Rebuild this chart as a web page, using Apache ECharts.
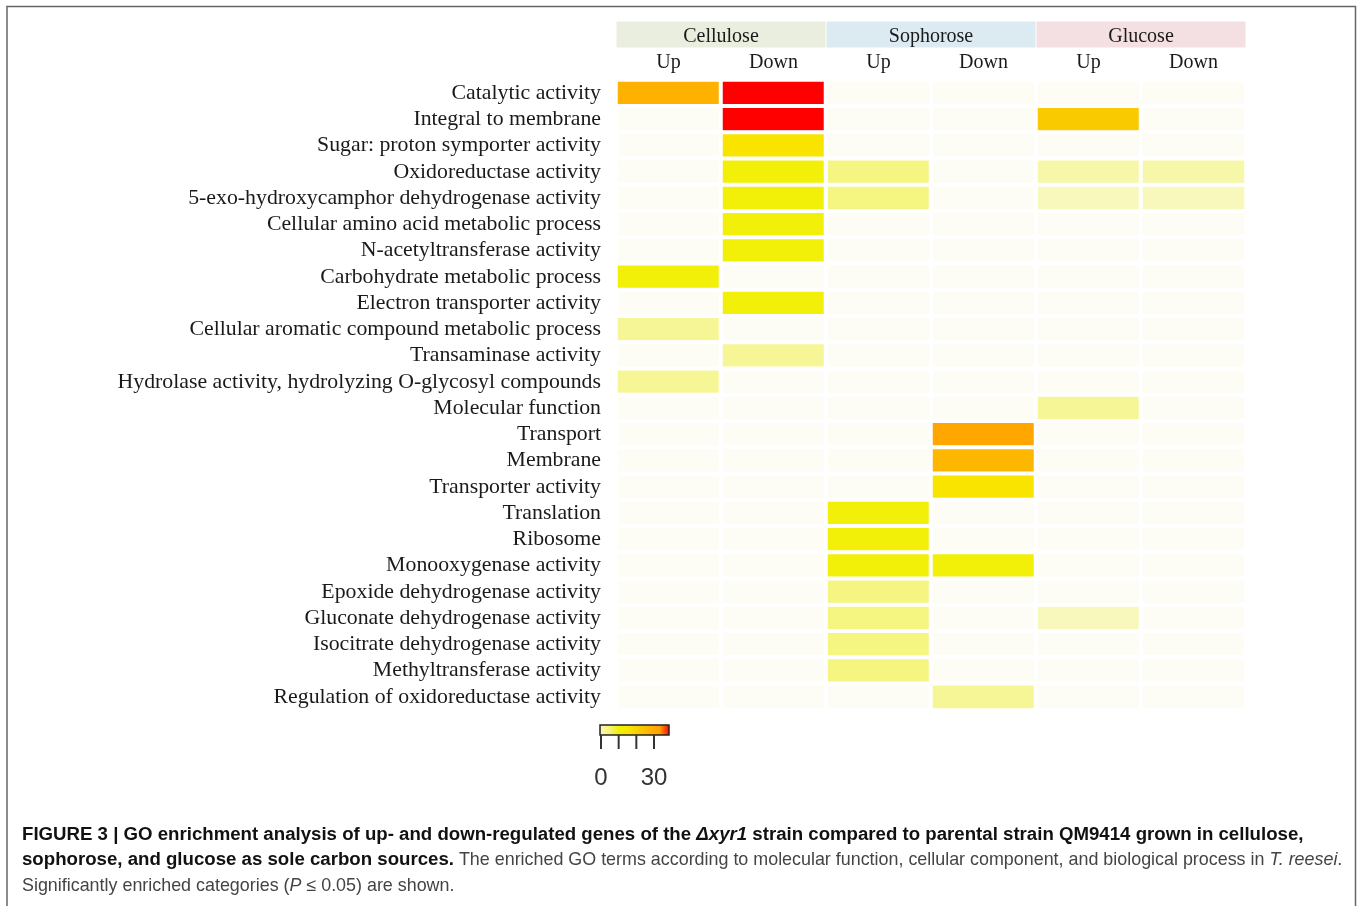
<!DOCTYPE html>
<html>
<head>
<meta charset="utf-8">
<title>GO enrichment heatmap</title>
<script src="https://cdn.jsdelivr.net/npm/echarts@6/dist/echarts.min.js"></script>
<style>
    html, body { margin: 0; padding: 0; background: #fff; }
    #main { width: 1358px; height: 906px; }
</style>
</head>
<body>
<div id="main"></div>
<script>
// GO terms, top to bottom
var terms = [
    'Catalytic activity',
    'Integral to membrane',
    'Sugar: proton symporter activity',
    'Oxidoreductase activity',
    '5-exo-hydroxycamphor dehydrogenase activity',
    'Cellular amino acid metabolic process',
    'N-acetyltransferase activity',
    'Carbohydrate metabolic process',
    'Electron transporter activity',
    'Cellular aromatic compound metabolic process',
    'Transaminase activity',
    'Hydrolase activity, hydrolyzing O-glycosyl compounds',
    'Molecular function',
    'Transport',
    'Membrane',
    'Transporter activity',
    'Translation',
    'Ribosome',
    'Monooxygenase activity',
    'Epoxide dehydrogenase activity',
    'Gluconate dehydrogenase activity',
    'Isocitrate dehydrogenase activity',
    'Methyltransferase activity',
    'Regulation of oxidoreductase activity'
];
var columns = ['Up', 'Down', 'Up', 'Down', 'Up', 'Down'];
var sources = ['Cellulose', 'Sophorose', 'Glucose'];

// enrichment scores per column
var celluloseUp   = [23, 0, 0, 0, 0, 0, 0, 11, 0, 6, 0, 6, 0, 0, 0, 0, 0, 0, 0, 0, 0, 0, 0, 0];
var celluloseDown = [30, 30, 15, 11, 11, 11, 11, 0, 11, 0, 6, 0, 0, 0, 0, 0, 0, 0, 0, 0, 0, 0, 0, 0];
var sophoroseUp   = [0, 0, 0, 7, 7, 0, 0, 0, 0, 0, 0, 0, 0, 0, 0, 0, 11, 11, 11, 7, 7, 7, 7, 0];
var sophoroseDown = [0, 0, 0, 0, 0, 0, 0, 0, 0, 0, 0, 0, 0, 25, 22, 15, 0, 0, 11, 0, 0, 0, 0, 6];
var glucoseUp     = [0, 19, 0, 5, 4, 0, 0, 0, 0, 0, 0, 0, 6, 0, 0, 0, 0, 0, 0, 0, 4, 0, 0, 0];
var glucoseDown   = [0, 0, 0, 5, 4, 0, 0, 0, 0, 0, 0, 0, 0, 0, 0, 0, 0, 0, 0, 0, 0, 0, 0, 0];

var scaleMin = 0;
var scaleMax = 30;
var legendTicks = [0, 10, 20, 30];
var legendLabels = ['0', '30'];

var rampColors = ['#fdfdf6', '#f8f8c2', '#f4f478', '#f2f000', '#f9e400', '#f9cc00', '#ffb400', '#ffa000', '#ff0000'];
var bandColors = { Cellulose: '#e9eedf', Sophorose: '#dcebf1', Glucose: '#f4e0e2' };

var allColumns = [celluloseUp, celluloseDown, sophoroseUp, sophoroseDown, glucoseUp, glucoseDown];
var cells = [];
allColumns.forEach(function (col, x) {
    col.forEach(function (v, y) {
        cells.push([x, y, v]);
    });
});

var serif = '"Liberation Serif", "Times New Roman", serif';
var sans = '"Liberation Sans", Arial, sans-serif';

// legend bar geometry
var lgX = 600, lgY = 725, lgW = 69, lgH = 10;
var tickX0 = 601, tickX1 = 654;
function tickPos(v) {
    return tickX0 + (v - scaleMin) / (scaleMax - scaleMin) * (tickX1 - tickX0);
}

var legendGraphics = [{
    type: 'rect',
    shape: { x: lgX, y: lgY, width: lgW, height: lgH },
    style: {
        fill: new echarts.graphic.LinearGradient(0, 0, 1, 0, rampColors.slice(1).map(function (c, i, a) {
            return { offset: i / (a.length - 1), color: c };
        })),
        stroke: '#222',
        lineWidth: 1.5
    }
}];
legendTicks.forEach(function (t) {
    legendGraphics.push({
        type: 'line',
        shape: { x1: tickPos(t), y1: lgY + lgH, x2: tickPos(t), y2: lgY + lgH + 14 },
        style: { stroke: '#333', lineWidth: 2 }
    });
});
legendLabels.forEach(function (lab) {
    legendGraphics.push({
        type: 'text',
        x: tickPos(Number(lab)),
        y: 778,
        style: { text: lab, font: '24px "Liberation Sans", Arial, sans-serif', fill: '#333', align: 'center', verticalAlign: 'middle' }
    });
});

var captionRich = {
    b: { fontFamily: sans, fontWeight: 'bold', fontSize: 18.65, fill: '#111' },
    bi: { fontFamily: sans, fontWeight: 'bold', fontStyle: 'italic', fontSize: 18.65, fill: '#111' },
    n: { fontFamily: sans, fontSize: 17.9, fill: '#444' },
    i: { fontFamily: sans, fontStyle: 'italic', fontSize: 17.9, fill: '#444' }
};
var captionLines = [
    '{b|FIGURE 3 | GO enrichment analysis of up- and down-regulated genes of the }{bi|Δxyr1}{b| strain compared to parental strain QM9414 grown in cellulose,}',
    '{b|sophorose, and glucose as sole carbon sources.}{n| The enriched GO terms according to molecular function, cellular component, and biological process in }{i|T. reesei}{n|.}',
    '{n|Significantly enriched categories (}{i|P}{n| ≤ 0.05) are shown.}'
];
var captionY = [835, 860, 886];
var captionGraphics = captionLines.map(function (line, k) {
    return {
        type: 'text',
        x: 22,
        y: captionY[k],
        style: { text: line, rich: captionRich, verticalAlign: 'middle', align: 'left' }
    };
});

var frame = {
    type: 'polyline',
    shape: { points: [[7, 906], [7, 6.5], [1355.5, 6.5], [1355.5, 906]] },
    style: { stroke: '#666', lineWidth: 1.5, fill: null }
};

var chart = echarts.init(document.getElementById('main'));
chart.setOption({
    animation: false,
    backgroundColor: '#fff',
    grid: { left: 616, right: 112, top: 80, height: 630 },
    xAxis: [{
        type: 'category',
        position: 'top',
        data: columns,
        axisLine: { show: false },
        axisTick: { show: false },
        splitLine: { show: false },
        axisLabel: { margin: 7, fontFamily: serif, fontSize: 20, color: '#1a1a1a' }
    }, {
        type: 'category',
        position: 'top',
        data: sources,
        axisLine: { show: false },
        axisTick: { show: false },
        splitLine: { show: false },
        axisLabel: {
            margin: 35,
            formatter: function (v) { return '{' + v + '|' + v + '}'; },
            rich: (function () {
                var r = {};
                sources.forEach(function (s) {
                    r[s] = {
                        width: 209, height: 21, lineHeight: 21, padding: [5, 0, 0, 0], align: 'center',
                        backgroundColor: bandColors[s],
                        fontFamily: serif, fontSize: 20, color: '#1a1a1a'
                    };
                });
                return r;
            })()
        }
    }],
    yAxis: {
        type: 'category',
        data: terms,
        inverse: true,
        axisLine: { show: false },
        axisTick: { show: false },
        splitLine: { show: false },
        axisLabel: { interval: 0, margin: 15, fontFamily: serif, fontSize: 21.8, color: '#1a1a1a' }
    },
    visualMap: {
        show: false,
        type: 'continuous',
        min: scaleMin,
        max: scaleMax,
        seriesIndex: 0,
        inRange: { color: rampColors }
    },
    series: [{
        type: 'heatmap',
        xAxisIndex: 0,
        data: cells,
        itemStyle: { borderColor: '#fff', borderWidth: 4 },
        emphasis: { disabled: true }
    }],
    graphic: [frame].concat(legendGraphics, captionGraphics)
});
</script>
</body>
</html>
